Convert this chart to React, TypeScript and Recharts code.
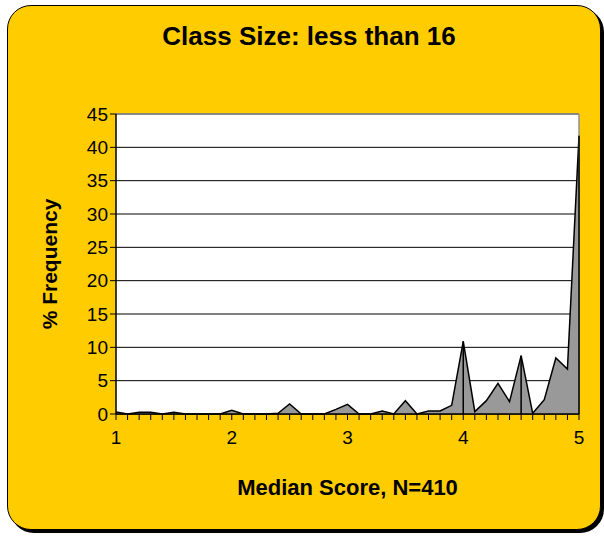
import { AreaChart, Area, XAxis, YAxis, CartesianGrid, ReferenceLine } from 'recharts';

const scores = [
  1.0, 1.1, 1.2, 1.3, 1.4, 1.5, 1.6, 1.7, 1.8, 1.9,
  2.0, 2.1, 2.2, 2.3, 2.4, 2.5, 2.6, 2.7, 2.8, 2.9,
  3.0, 3.1, 3.2, 3.3, 3.4, 3.5, 3.6, 3.7, 3.8, 3.9,
  4.0, 4.1, 4.2, 4.3, 4.4, 4.5, 4.6, 4.7, 4.8, 4.9,
  5.0,
];
const frequency = [
  0.3, 0, 0.25, 0.25, 0, 0.25, 0, 0, 0, 0,
  0.55, 0, 0, 0, 0.1, 1.5, 0, 0, 0, 0.7,
  1.45, 0, 0, 0.45, 0, 2.0, 0, 0.45, 0.45, 1.3,
  10.9, 0.35, 2.0, 4.6, 1.85, 8.75, 0.1, 2.15, 8.4, 6.75,
  41.75,
];
const xLabels = [1, 2, 3, 4, 5];
const yTicks = [0, 5, 10, 15, 20, 25, 30, 35, 40, 45];
const dropLines = [4.0, 4.5, 5.0];

const data = scores.map((s, i) => ({ score: s, freq: frequency[i] }));

const font = 'Arial, "Liberation Sans", sans-serif';

function XTick(props: any) {
  const { x, y, payload } = props;
  if (!xLabels.includes(payload.value)) return null;
  return (
    <text x={x} y={y + 22} textAnchor="middle" fontSize={19} fontFamily={font} fill="#000">
      {payload.value}
    </text>
  );
}

export default function App() {
  return (
    <div style={{ position: 'absolute', left: 0, top: 0, width: 604, height: 536, background: '#fff' }}>
      <div
        style={{
          position: 'absolute', left: 7, top: 5, width: 592, height: 523,
          background: '#FFCC00', border: '1px solid #000', borderRadius: 24,
          boxShadow: '3px 3px 0 #000',
        }}
      />
      <div
        style={{
          position: 'absolute', left: 9, top: 21, width: 600, textAlign: 'center',
          fontFamily: font, fontWeight: 'bold', fontSize: 26, color: '#000',
        }}
      >
        Class Size: less than 16
      </div>
      <div
        style={{
          position: 'absolute', left: 116, top: 475, width: 463, textAlign: 'center',
          fontFamily: font, fontWeight: 'bold', fontSize: 22, color: '#000',
        }}
      >
        Median Score, N=410
      </div>
      <div
        style={{
          position: 'absolute', left: 50, top: 265, width: 200, marginLeft: -100, marginTop: -13,
          textAlign: 'center', transform: 'rotate(-90deg)',
          fontFamily: font, fontWeight: 'bold', fontSize: 21, color: '#000',
        }}
      >
        % Frequency
      </div>
      <div style={{ position: 'absolute', left: 0, top: 0 }}>
        <AreaChart
          width={604}
          height={536}
          data={data}
          margin={{ top: 114, right: 25, bottom: 82, left: 0 }}
        >
          <CartesianGrid vertical={false} stroke="#000" strokeWidth={1} fill="#fff" fillOpacity={1} />
          <XAxis
            dataKey="score"
            type="number"
            domain={[1, 5]}
            ticks={scores}
            interval={0}
            tick={<XTick />}
            tickSize={6}
            height={40}
            axisLine={{ stroke: '#000', strokeWidth: 1.5 }}
            tickLine={{ stroke: '#000' }}
          />
          <YAxis
            type="number"
            domain={[0, 45]}
            ticks={yTicks}
            interval={0}
            width={116}
            tickSize={6}
            tick={{ fontSize: 19, fontFamily: font, fill: '#000' }}
            axisLine={{ stroke: '#000', strokeWidth: 1.5 }}
            tickLine={{ stroke: '#000' }}
          />
          <ReferenceLine y={45} stroke="#909090" strokeWidth={1.5} />
          <ReferenceLine x={5} stroke="#909090" strokeWidth={1.5} />
          <Area
            type="linear"
            dataKey="freq"
            stroke="#000"
            strokeWidth={1.5}
            fill="#999999"
            fillOpacity={1}
            dot={false}
            activeDot={false}
            isAnimationActive={false}
          />
          {dropLines.map((s) => (
            <ReferenceLine
              key={s}
              segment={[
                { x: s, y: 0 },
                { x: s, y: frequency[scores.indexOf(s)] },
              ]}
              stroke="#000"
              strokeWidth={1.5}
            />
          ))}
        </AreaChart>
      </div>
    </div>
  );
}
